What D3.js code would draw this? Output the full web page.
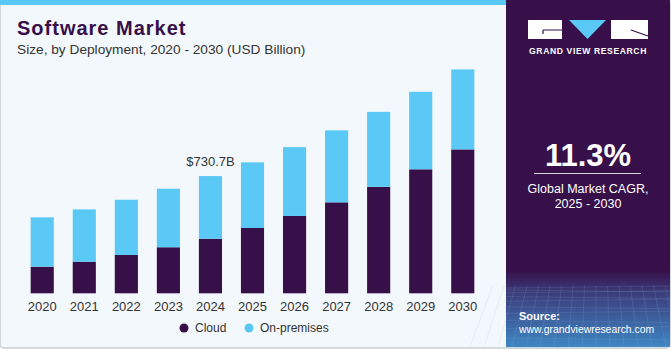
<!DOCTYPE html>
<html>
<head>
<meta charset="utf-8">
<script src="https://cdn.jsdelivr.net/npm/d3@7"></script>
<style>
  body { margin: 0; background: #ffffff; }
  text { font-family: "Liberation Sans", Arial, sans-serif; }
</style>
</head>
<body>
<div id="chart"></div>
<script>
// chart data (USD Billion)
var years = ["2020", "2021", "2022", "2023", "2024", "2025", "2026", "2027", "2028", "2029", "2030"];
var cloud = [166, 197, 239, 287, 340, 407, 482, 567, 664, 773, 897];
var onPremises = [307.5, 326, 344, 365, 390.7, 409, 429, 448.6, 467, 483, 498.6];
var seriesNames = ["Cloud", "On-premises"];
var seriesColors = ["#37104a", "#5bc9f5"];
var labelYear = "2024";
var labelText = "$730.7B";

var width = 671, height = 350;

var svg = d3.select("#chart")
            .append("svg")
            .attr("width", width)
            .attr("height", height);

var defs = svg.append("defs");

// panel backgrounds
svg.append("rect")
   .attr("x", 0).attr("y", 0)
   .attr("width", 670).attr("height", 348)
   .attr("rx", 4)
   .attr("fill", "#f3f8fc")
   .attr("stroke", "#c9cdd1")
   .attr("stroke-width", 1.5);

svg.append("rect")
   .attr("x", 0).attr("y", 0)
   .attr("width", 507).attr("height", 5)
   .attr("fill", "#5bc9f5");

// right side panel with gradient at the bottom
var sideGrad = defs.append("linearGradient")
                   .attr("id", "side-gradient")
                   .attr("x1", "0%").attr("y1", "0%")
                   .attr("x2", "0%").attr("y2", "100%");
sideGrad.append("stop").attr("offset", "0%").attr("stop-color", "#37104a");
sideGrad.append("stop").attr("offset", "78%").attr("stop-color", "#37104a");
sideGrad.append("stop").attr("offset", "84%").attr("stop-color", "#3b3a78");
sideGrad.append("stop").attr("offset", "100%").attr("stop-color", "#3f86c4");

svg.append("rect")
   .attr("x", 506).attr("y", 0)
   .attr("width", 164).attr("height", 347)
   .attr("fill", "url(#side-gradient)");

// faint grid texture in the lower part of the side panel
var grid = svg.append("g").attr("stroke", "#8fb6e6").attr("stroke-opacity", 0.22).attr("stroke-width", 0.7);
d3.range(0, 12).forEach(function(i) {
  var y = 288 + i * i * 0.45 + i * 1.5;
  grid.append("line").attr("x1", 506).attr("x2", 670).attr("y1", y).attr("y2", y + (i % 2 ? 2 : -2));
});
d3.range(0, 18).forEach(function(i) {
  var x = 506 + i * 10;
  grid.append("line").attr("x1", x + (i - 9) * 1.5).attr("x2", x + (i - 9) * 4).attr("y1", 286).attr("y2", 347);
});

// logo
var logo = svg.append("g");
logo.append("rect").attr("x", 528).attr("y", 20).attr("width", 34).attr("height", 19).attr("fill", "#ffffff");
logo.append("path").attr("d", "M569,20 L606,20 L587.5,39 Z").attr("fill", "#5bc9f5");
logo.append("rect").attr("x", 611).attr("y", 20).attr("width", 37).attr("height", 19).attr("fill", "#ffffff");
logo.append("path").attr("d", "M543,30 L562,30 M543,30 L543,34").attr("stroke", "#37104a").attr("stroke-width", 1.2).attr("fill", "none");
logo.append("path").attr("d", "M631,30 L648,36").attr("stroke", "#37104a").attr("stroke-width", 1.2).attr("fill", "none");
logo.append("text")
    .attr("x", 588).attr("y", 54)
    .attr("text-anchor", "middle")
    .attr("fill", "#ffffff")
    .attr("font-size", 8.6)
    .attr("font-weight", "bold")
    .attr("letter-spacing", 0.6)
    .text("GRAND VIEW RESEARCH");

// CAGR block
svg.append("text")
   .attr("x", 588).attr("y", 166)
   .attr("text-anchor", "middle")
   .attr("fill", "#ffffff")
   .attr("font-size", 31)
   .attr("font-weight", "bold")
   .text("11.3%");

svg.append("line")
   .attr("x1", 534).attr("x2", 641)
   .attr("y1", 173.5).attr("y2", 173.5)
   .attr("stroke", "#d8cfe0").attr("stroke-width", 1);

svg.append("text")
   .attr("x", 588).attr("y", 193)
   .attr("text-anchor", "middle")
   .attr("fill", "#ffffff")
   .attr("font-size", 12.5)
   .text("Global Market CAGR,");

svg.append("text")
   .attr("x", 588).attr("y", 208)
   .attr("text-anchor", "middle")
   .attr("fill", "#ffffff")
   .attr("font-size", 12.5)
   .text("2025 - 2030");

// source
svg.append("text")
   .attr("x", 519).attr("y", 320)
   .attr("fill", "#ffffff")
   .attr("font-size", 11)
   .attr("font-weight", "bold")
   .text("Source:");

svg.append("text")
   .attr("x", 519).attr("y", 333)
   .attr("fill", "#ffffff")
   .attr("font-size", 10.4)
   .text("www.grandviewresearch.com");

// titles
svg.append("text")
   .attr("x", 17).attr("y", 35)
   .attr("fill", "#37104a")
   .attr("font-size", 20)
   .attr("font-weight", "900")
   .attr("letter-spacing", 1)
   .text("Software Market");

svg.append("text")
   .attr("x", 17).attr("y", 54)
   .attr("fill", "#333333")
   .attr("font-size", 13.7)
   .text("Size, by Deployment, 2020 - 2030 (USD Billion)");

// stacked bars
var table = years.map(function(y, i) {
  return { year: y, "Cloud": cloud[i], "On-premises": onPremises[i] };
});

var stack = d3.stack().keys(seriesNames);
var layers = stack(table);

var x = d3.scaleBand()
          .domain(years)
          .range([21, 484])
          .paddingInner(0.45)
          .paddingOuter(0.23);

var y = d3.scaleLinear()
          .domain([0, 1400])
          .range([293.3, 68.7]);

var color = d3.scaleOrdinal().domain(seriesNames).range(seriesColors);

svg.append("g")
   .selectAll("g")
   .data(layers)
   .enter().append("g")
   .attr("fill", function(d) { return color(d.key); })
   .selectAll("rect")
   .data(function(d) { return d; })
   .enter().append("rect")
   .attr("x", function(d) { return x(d.data.year); })
   .attr("y", function(d) { return y(d[1]); })
   .attr("width", x.bandwidth())
   .attr("height", function(d) { return y(d[0]) - y(d[1]); });

// x axis
var xAxis = svg.append("g")
   .attr("transform", "translate(0,293.3)")
   .call(d3.axisBottom(x).tickSize(0).tickPadding(8));
xAxis.select(".domain").remove();
xAxis.selectAll("text")
     .attr("font-family", "Liberation Sans, Arial, sans-serif")
     .attr("font-size", 13)
     .attr("fill", "#333333");

// value label
var idx = years.indexOf(labelYear);
svg.append("text")
   .attr("x", x(labelYear) + x.bandwidth() / 2)
   .attr("y", y(cloud[idx] + onPremises[idx]) - 10)
   .attr("text-anchor", "middle")
   .attr("fill", "#333333")
   .attr("font-size", 13)
   .text(labelText);

// legend
var legend = svg.append("g");
var legendX = [184, 249];
seriesNames.forEach(function(name, i) {
  legend.append("circle")
        .attr("cx", legendX[i]).attr("cy", 328)
        .attr("r", 4.5)
        .attr("fill", color(name));
  legend.append("text")
        .attr("x", legendX[i] + 11).attr("y", 332)
        .attr("fill", "#333333")
        .attr("font-size", 12)
        .text(name);
});
</script>
</body>
</html>
